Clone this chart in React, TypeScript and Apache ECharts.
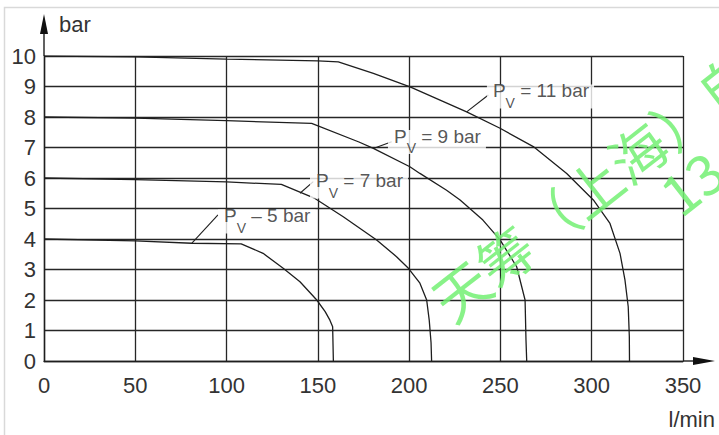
import { useEffect, useRef } from 'react';
import * as echarts from 'echarts';

const FONT = '"Liberation Sans", Arial, Helvetica, sans-serif';

// pump characteristic curves: [flow l/min, pressure bar]
const curve5: [number, number][] = [
  [0, 4], [50, 3.94], [80.9, 3.86], [108, 3.84], [120, 3.53], [131, 3.04],
  [140.2, 2.6], [149.4, 2.0], [154, 1.62], [156.6, 1.34], [158.1, 1.12], [158.5, 0],
];
const curve7: [number, number][] = [
  [0, 6], [50, 5.95], [100, 5.87], [130, 5.79], [148.4, 5.33], [163.9, 4.73],
  [182.2, 3.97], [193.1, 3.42], [199.6, 3.04], [205.9, 2.55], [209.6, 2.0],
  [211, 1.34], [212, 0.6], [212.3, 0],
];
const curve9: [number, number][] = [
  [0, 8], [50, 7.96], [100, 7.88], [146.6, 7.79], [172.5, 7.18], [180.4, 6.97],
  [200.4, 6.37], [205.9, 6.15], [220.5, 5.6], [227.9, 5.28], [240.4, 4.62],
  [249.8, 3.97], [258.9, 3.09], [263.5, 2.0], [264, 0.69], [264.4, 0],
];
const curve11: [number, number][] = [
  [0, 10], [50, 9.97], [100, 9.9], [150, 9.84], [161.2, 9.81], [180.4, 9.43],
  [200.5, 8.99], [231.5, 8.17], [249.8, 7.63], [268, 7.03], [286.3, 6.15],
  [300.9, 5.28], [310, 4.51], [315.5, 3.53], [318.2, 2.66], [320, 1.78],
  [320.6, 0.8], [320.7, 0],
];

// leader lines from curve to label
const leader5: [number, number][] = [[80.9, 3.86], [95.3, 4.79]];
const leader7: [number, number][] = [[140.2, 5.5], [147.5, 5.88]];
const leader9: [number, number][] = [[180.4, 6.97], [190.4, 7.19]];
const leader11: [number, number][] = [[231.5, 8.17], [243.4, 8.72]];

// label anchors (left edge of label box, vertical centre)
const labelNames = ['5 bar', '7 bar', '9 bar', '11 bar'];
const labelSigns = ['–', '=', '=', '='];
const labelAnchors: [number, number][] = [[95.3, 4.57], [145.7, 5.72], [188.4, 7.18], [242.6, 8.67]];

const xName = 'l/min';
const yName = 'bar';

export default function App() {
  const ref = useRef<HTMLDivElement>(null);
  useEffect(() => {
    const chart = echarts.init(ref.current!, null, { renderer: 'svg' });
    const lineCol = '#1e1e1e';
    const mkLine = (data: [number, number][], w = 1.3) => ({
      type: 'line',
      data,
      symbol: 'none',
      silent: true,
      z: 3,
      lineStyle: { color: lineCol, width: w },
    });
    chart.setOption({
      animation: false,
      backgroundColor: '#fff',
      grid: { left: 44, right: 36, top: 56, bottom: 74 },
      xAxis: {
        type: 'value', min: 0, max: 350, interval: 50,
        axisLine: { show: true, lineStyle: { color: lineCol, width: 1.4 } },
        axisTick: { show: false },
        axisLabel: { color: '#333', fontSize: 22, fontFamily: FONT, margin: 13 },
        splitLine: { show: true, lineStyle: { color: '#262626', width: 1.3 } },
        name: xName, nameLocation: 'end', nameGap: 32,
        nameTextStyle: { color: '#333', fontSize: 22, fontFamily: FONT, align: 'right', verticalAlign: 'top', padding: [47, 0, 0, 0] },
      },
      yAxis: {
        type: 'value', min: 0, max: 10, interval: 1,
        axisLine: { show: true, lineStyle: { color: lineCol, width: 1.4 } },
        axisTick: { show: false },
        axisLabel: { color: '#333', fontSize: 22, fontFamily: FONT, margin: 8 },
        splitLine: { show: true, lineStyle: { color: '#262626', width: 1.3 } },
        name: yName, nameLocation: 'end', nameGap: 32,
        nameTextStyle: { color: '#333', fontSize: 22, fontFamily: FONT, align: 'left', verticalAlign: 'middle', padding: [0, 0, 0, 15] },
      },
      series: [
        mkLine(curve5), mkLine(curve7), mkLine(curve9), mkLine(curve11),
        mkLine(leader5, 1.1), mkLine(leader7, 1.1), mkLine(leader9, 1.1), mkLine(leader11, 1.1),
        {
          type: 'scatter',
          symbolSize: 0,
          silent: true,
          z: 5,
          data: labelAnchors.map((a, i) => ({
            value: a,
            label: {
              show: true,
              position: 'right',
              distance: 0,
              backgroundColor: '#fff',
              padding: [2, 5, 2, 6],
              formatter: `{p|P}{v|V}{p| ${labelSigns[i]} ${labelNames[i]}}`,
              rich: {
                p: { fontSize: 19, fontFamily: FONT, color: '#2a2a2a', lineHeight: 20, padding: [0, 0, 12, 0] },
                v: { fontSize: 14, fontFamily: FONT, color: '#2a2a2a', lineHeight: 14, padding: [12, 0, 0, 0] },
              },
            },
          })),
        },
      ],
    });

    const o = chart.convertToPixel({ gridIndex: 0 }, [0, 0]) as number[];
    const tr = chart.convertToPixel({ gridIndex: 0 }, [350, 10]) as number[];
    const ax = o[0];
    const ay = o[1];
    const rx = tr[0];
    const ty = tr[1];
    const rot = (38 * Math.PI) / 180;
    const wm = { fontSize: 56, fontFamily: '"Noto Sans CJK SC"', fill: 'rgba(115,240,115,0.85)', textAlign: 'left', textVerticalAlign: 'middle', align: 'left', verticalAlign: 'middle' };
    chart.setOption({
      graphic: [
        { type: 'polyline', silent: true, shape: { points: [[4.5, 435], [4.5, 7.5], [719, 7.5]] }, style: { stroke: '#d9d9d9', lineWidth: 1.5, fill: 'none' } },
        { type: 'line', silent: true, shape: { x1: ax, y1: ty, x2: ax, y2: 30 }, style: { stroke: lineCol, lineWidth: 1.4 } },
        { type: 'polygon', silent: true, shape: { points: [[ax, 14], [ax - 4, 34], [ax + 4, 34]] }, style: { fill: '#111' } },
        { type: 'line', silent: true, shape: { x1: rx, y1: ay, x2: 697, y2: ay }, style: { stroke: lineCol, lineWidth: 1.4 } },
        { type: 'polygon', silent: true, shape: { points: [[715, ay], [693, ay - 4], [693, ay + 4]] }, style: { fill: '#111' } },
        { type: 'text', silent: true, x: 438, y: 306, rotation: rot, z: 100, style: { ...wm, text: '天筹（上海）自' } },
        { type: 'text', silent: true, x: 666, y: 200, rotation: rot, z: 100, style: { ...wm, text: '13' } },
      ],
    });
    return () => chart.dispose();
  }, []);
  return <div ref={ref} style={{ position: 'fixed', left: 0, top: 0, width: 719, height: 435 }} />;
}
